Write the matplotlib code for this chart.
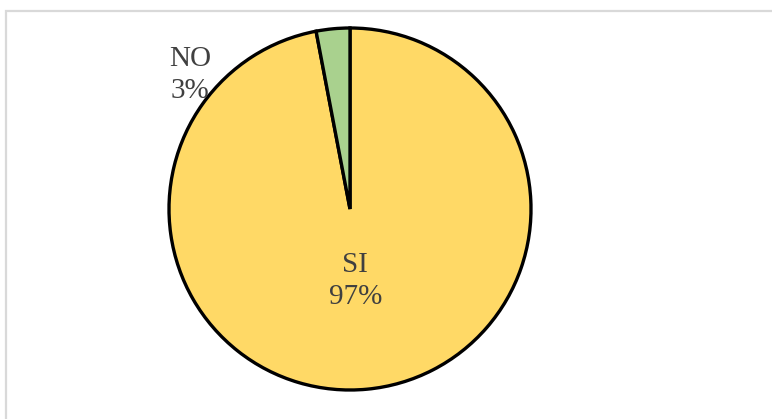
import matplotlib
matplotlib.use("Agg")
import matplotlib.pyplot as plt
from matplotlib.patches import Rectangle
import numpy as np

categories = ["SI", "NO"]
values = [97, 3]
colors = ["#FFD966", "#A9D18E"]

W, H, DPI = 772, 419, 100
fig = plt.figure(figsize=(W / DPI, H / DPI), dpi=DPI)
fig.patch.set_facecolor("white")

# outer light-grey frame (right/bottom edges cut off as in reference)
fig.patches.append(Rectangle((6 / W, -0.2), 1.2, (H - 11) / H + 0.2,
                             transform=fig.transFigure, fill=False,
                             edgecolor="#d9d9d9", linewidth=1.6))

cx, cy, r = 350, 209, 181
ax = fig.add_axes([(cx - r) / W, (H - cy - r) / H, 2 * r / W, 2 * r / H])
wedges, _ = ax.pie(values, colors=colors, startangle=90, counterclock=False,
                   radius=1.0, wedgeprops=dict(edgecolor="black", linewidth=2.4))
ax.set_xlim(-1, 1)
ax.set_ylim(-1, 1)
ax.set_axis_off()

txt = dict(family="Liberation Serif", fontsize=21, color="#404040",
           ha="center", va="center", linespacing=1.3)
ax.text(0.03, -0.40, f"{categories[0]}\n{values[0]}%", **txt)
ax.text(-0.885, 0.74, f"{categories[1]}\n{values[1]}%", **txt)

fig.savefig("out.png", dpi=DPI)
